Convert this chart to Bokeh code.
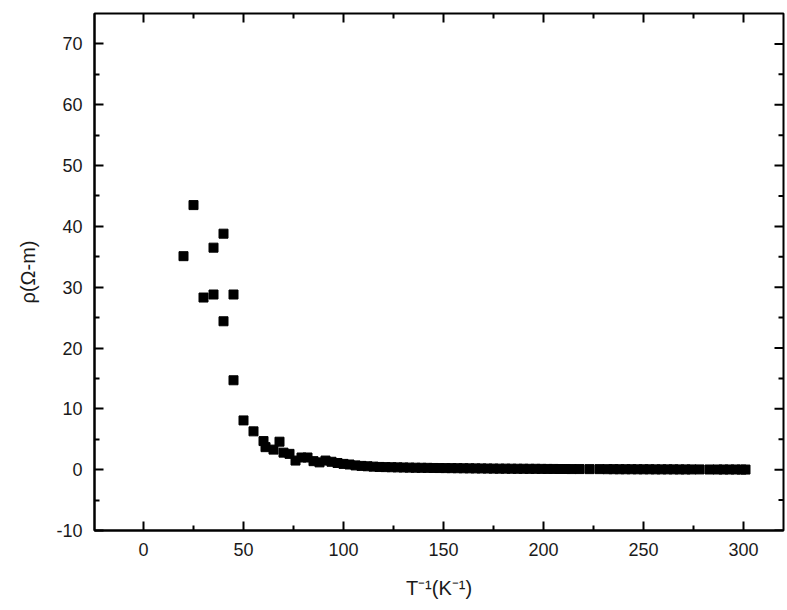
import math
from bokeh.plotting import figure
from bokeh.models import Range1d, FixedTicker, ColumnDataSource, CustomJSTickFormatter
from bokeh.embed import file_html
from bokeh.resources import INLINE

# inverse temperature (x) and resistivity (y)
inv_T = [20, 25, 30, 35, 35, 40, 40, 45, 45, 50, 55, 60, 61, 65, 68, 70, 73, 76, 79, 82,
         85, 88, 91, 94, 97, 100, 103, 106, 109, 112, 115, 118, 121, 124, 127, 130, 133, 136,
         139, 142, 145, 148, 151, 154, 157, 160, 163, 166, 169, 172, 175, 178, 181, 184, 187,
         190, 193, 196, 199, 202, 205, 208, 211, 214, 218, 223, 228, 232, 235, 238, 241, 244,
         247, 250, 253, 256, 259, 262, 265, 268, 271, 274, 278, 283, 287, 290, 293, 296, 299, 301]
rho = [35.1, 43.5, 28.3, 36.5, 28.8, 38.8, 24.4, 28.8, 14.7, 8.1, 6.3, 4.7, 3.7, 3.3, 4.6, 2.8,
       2.6, 1.5, 2.0, 2.0, 1.4, 1.2, 1.5, 1.3, 1.1, 0.95, 0.85, 0.7, 0.62, 0.56, 0.50, 0.45,
       0.42, 0.40, 0.38, 0.36, 0.34, 0.32, 0.31, 0.30, 0.28, 0.27, 0.26, 0.25, 0.24, 0.23, 0.22,
       0.21, 0.20, 0.19, 0.18, 0.17, 0.17, 0.16, 0.15, 0.15, 0.14, 0.14, 0.13, 0.12, 0.12, 0.11,
       0.11, 0.10, 0.10, 0.09, 0.09, 0.08, 0.08, 0.07, 0.07, 0.07, 0.06, 0.06, 0.06, 0.05, 0.05,
       0.05, 0.05, 0.04, 0.04, 0.04, 0.04, 0.03, 0.03, 0.03, 0.03, 0.03, 0.02, 0.02]

# tick values
x_major = [0, 50, 100, 150, 200, 250, 300]
x_minor = [-25, 25, 75, 125, 175, 225, 275]
y_major = [-10, 0, 10, 20, 30, 40, 50, 60, 70]
y_minor = [-5, 5, 15, 25, 35, 45, 55, 65]

x_label = "T\u207b\u00b9(K\u207b\u00b9)"
y_label = "\u03c1(\u03a9-m)"

X0, X1 = -24.5, 320
Y0, Y1 = -10, 75

FONT = "Liberation Sans"
TXT = "#1a1a1a"

p = figure(width=787, height=610, output_backend="svg", toolbar_location=None,
           x_range=Range1d(X0, X1), y_range=Range1d(Y0, Y1),
           min_border_left=94, min_border_right=4, min_border_top=13, min_border_bottom=80,
           x_axis_label=x_label, y_axis_label=y_label)

p.background_fill_color = "white"
p.border_fill_color = "white"
p.outline_line_color = "black"
p.outline_line_width = 2
p.xgrid.visible = False
p.ygrid.visible = False

src = ColumnDataSource(dict(x=inv_T, y=rho))
p.scatter("x", "y", source=src, marker="square", size=9, color="black")

plain = CustomJSTickFormatter(code="return String(tick);")

for ax, major, minor in ((p.xaxis[0], x_major, x_minor), (p.yaxis[0], y_major, y_minor)):
    ax.ticker = FixedTicker(ticks=major, minor_ticks=minor)
    ax.formatter = plain
    ax.axis_line_color = "black"
    ax.axis_line_width = 2
    ax.major_tick_line_color = "black"
    ax.major_tick_line_width = 2
    ax.minor_tick_line_color = "black"
    ax.minor_tick_line_width = 2
    ax.major_tick_in = 9
    ax.major_tick_out = 0
    ax.minor_tick_in = 5
    ax.minor_tick_out = 0
    ax.major_label_text_font = FONT
    ax.major_label_text_font_size = "18px"
    ax.major_label_text_color = TXT
    ax.major_label_standoff = 12
    ax.axis_label_text_font = FONT
    ax.axis_label_text_font_size = "20px"
    ax.axis_label_text_font_style = "normal"
    ax.axis_label_text_color = TXT

p.xaxis[0].axis_label_standoff = 18
p.yaxis[0].axis_label_standoff = 14

# mirrored inward ticks on the top and right frame edges
vis_xminor = [v for v in x_minor if X0 < v < X1]
p.ray(x=x_major, y=[Y1] * len(x_major), length=9, length_units="screen",
      angle=-math.pi / 2, line_color="black", line_width=2)
p.ray(x=vis_xminor, y=[Y1] * len(vis_xminor), length=5, length_units="screen",
      angle=-math.pi / 2, line_color="black", line_width=2)
p.ray(x=[X1] * len(y_major), y=y_major, length=9, length_units="screen",
      angle=math.pi, line_color="black", line_width=2)
p.ray(x=[X1] * len(y_minor), y=y_minor, length=5, length_units="screen",
      angle=math.pi, line_color="black", line_width=2)

open("out.html", "w").write(file_html(p, INLINE))
